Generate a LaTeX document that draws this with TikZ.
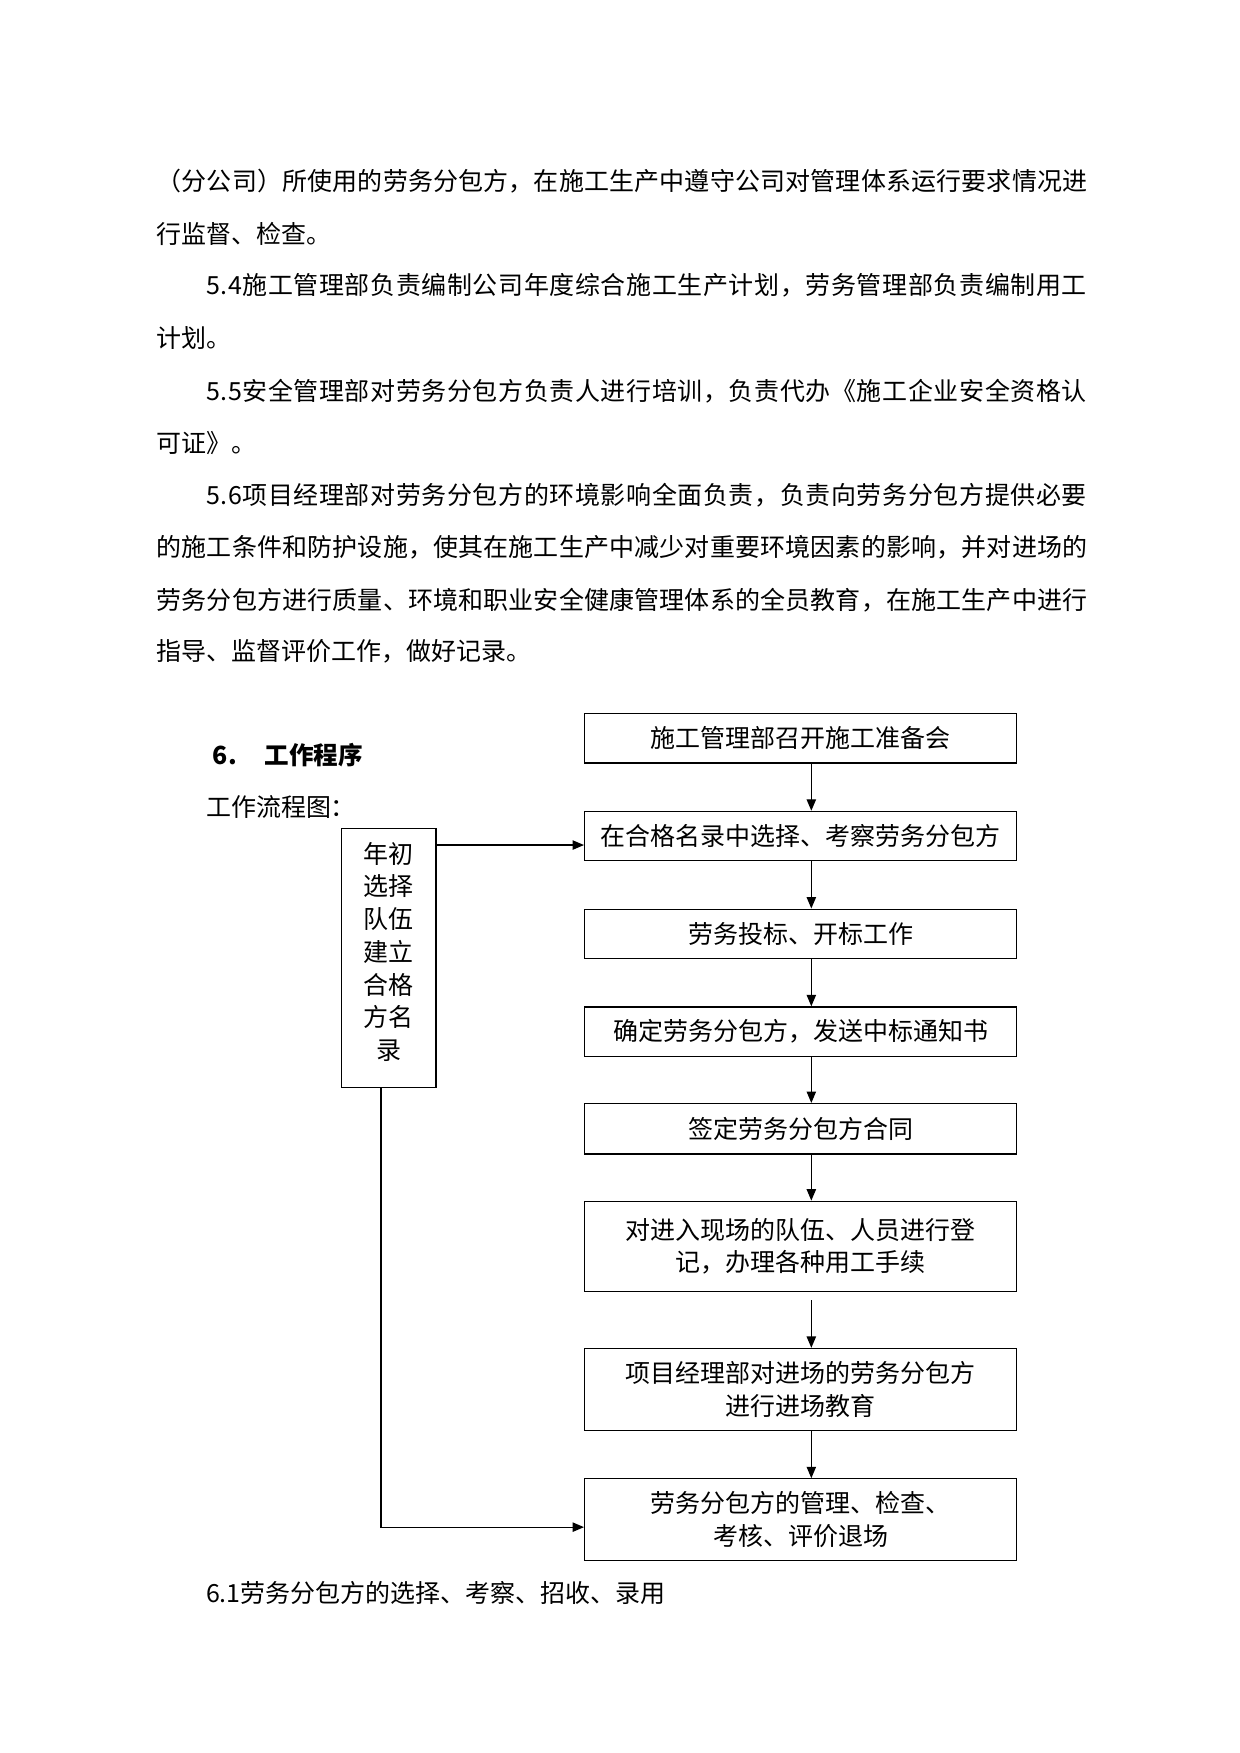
\documentclass[tikz,border=0pt]{standalone}
\usepackage{fontspec}
\newfontfamily\cjk{Noto Sans CJK SC}
\usetikzlibrary{arrows.meta}
% spread a line of characters over a given width
\def\sprdA#1{#1\sprdB}
\def\sprdB#1{\ifx#1\relax\else\hfil#1\expandafter\sprdB\fi}

\begin{document}
\begin{tikzpicture}[x=0.5397pt, y=-0.5397pt,
  font=\cjk\fontsize{12}{15.7}\selectfont,
  box/.style={draw, line width=.6pt, minimum width=207.5pt, inner sep=0pt, align=center},
  arr/.style={-{Triangle[length=5.5pt,width=4.5pt]}, line width=.6pt}]
\useasboundingbox (0,0) rectangle (1103,1560);
% text of section 5
\foreach \n/\x/\y/\w/\txt in {
  1/139/161/447pt/{（分公司）所使用的劳务分包方，在施工生产中遵守公司对管理体系运行要求情况进},
  3/183/254/423pt/{5.4施工管理部负责编制公司年度综合施工生产计划，劳务管理部负责编制用工},
  5/183/348/423pt/{5.5安全管理部对劳务分包方负责人进行培训，负责代办《施工企业安全资格认},
  7/183/441/423pt/{5.6项目经理部对劳务分包方的环境影响全面负责，负责向劳务分包方提供必要},
  8/139/487/447pt/{的施工条件和防护设施，使其在施工生产中减少对重要环境因素的影响，并对进场的},
  9/139/534/447pt/{劳务分包方进行质量、环境和职业安全健康管理体系的全员教育，在施工生产中进行}}
  \node [anchor=west, inner sep=0pt] (l\n) at (\x,\y) {\makebox[\w][s]{\expandafter\sprdA\txt\relax}};
\foreach \n/\y/\txt in {2/208/{行监督、检查。}, 4/301/{计划。}, 6/394/{可证》。},
  10/580/{指导、监督评价工作，做好记录。}}
  \node [anchor=west, inner sep=0pt] (l\n) at (139,\y) {\txt};
% heading
\node [anchor=west, inner sep=0pt, font=\cjk\bfseries\fontsize{12}{15.7}\selectfont] (num) at (189,672) {6.};
\node [anchor=west, inner sep=0pt, font=\cjk\bfseries\fontsize{11.8}{15.7}\selectfont] (head) at (235,672) {工作程序};
\node [anchor=west, inner sep=0pt] (sub) at (183,718) {工作流程图：};
% flow chart
\node [box, minimum height=23.7pt] (b1) at (712.5,657) {施工管理部召开施工准备会};
\node [box, minimum height=23.7pt] (b2) at (712.5,744) {在合格名录中选择、考察劳务分包方};
\node [box, minimum height=23.7pt] (b3) at (712.5,831) {劳务投标、开标工作};
\node [box, minimum height=23.7pt] (b4) at (712.5,918) {确定劳务分包方，发送中标通知书};
\node [box, minimum height=24.2pt] (b5) at (712.5,1004.5) {签定劳务分包方合同};
\node [box, minimum height=43.2pt] (b6) at (712.5,1109) {对进入现场的队伍、人员进行登\\记，办理各种用工手续};
\node [box, minimum height=39.4pt] (b7) at (712.5,1236.5) {项目经理部对进场的劳务分包方\\进行进场教育};
\node [box, minimum height=39.4pt] (b8) at (712.5,1352.5) {劳务分包方的管理、检查、\\考核、评价退场};
\node [box, minimum width=45.3pt, minimum height=124.7pt] (lb) at (346,852.5) {};
\node [align=center, inner sep=0pt] (lbt) at (346,847) {年初\\选择\\队伍\\建立\\合格\\方名\\录};
% arrows
\coordinate (ax) at (722,0);
\foreach \a/\b in {b1/b2,b2/b3,b3/b4,b4/b5,b5/b6,b7/b8}
  \draw [arr] (\a.south -| ax) -- (\b.north -| ax);
\coordinate (gap) at (722,1157);
\draw [arr] (gap) -- (b7.north -| gap);
\coordinate (feed) at (389,752);
\draw [arr] (lb.east |- feed) -- (b2.west |- feed);
\coordinate (turn) at (339,1359);
\draw [arr] (lb.south -| turn) -- (turn) -- (b8.west |- turn);
% text below
\node [anchor=west, inner sep=0pt] (next) at (183,1418) {6.1劳务分包方的选择、考察、招收、录用};
\end{tikzpicture}
\end{document}
